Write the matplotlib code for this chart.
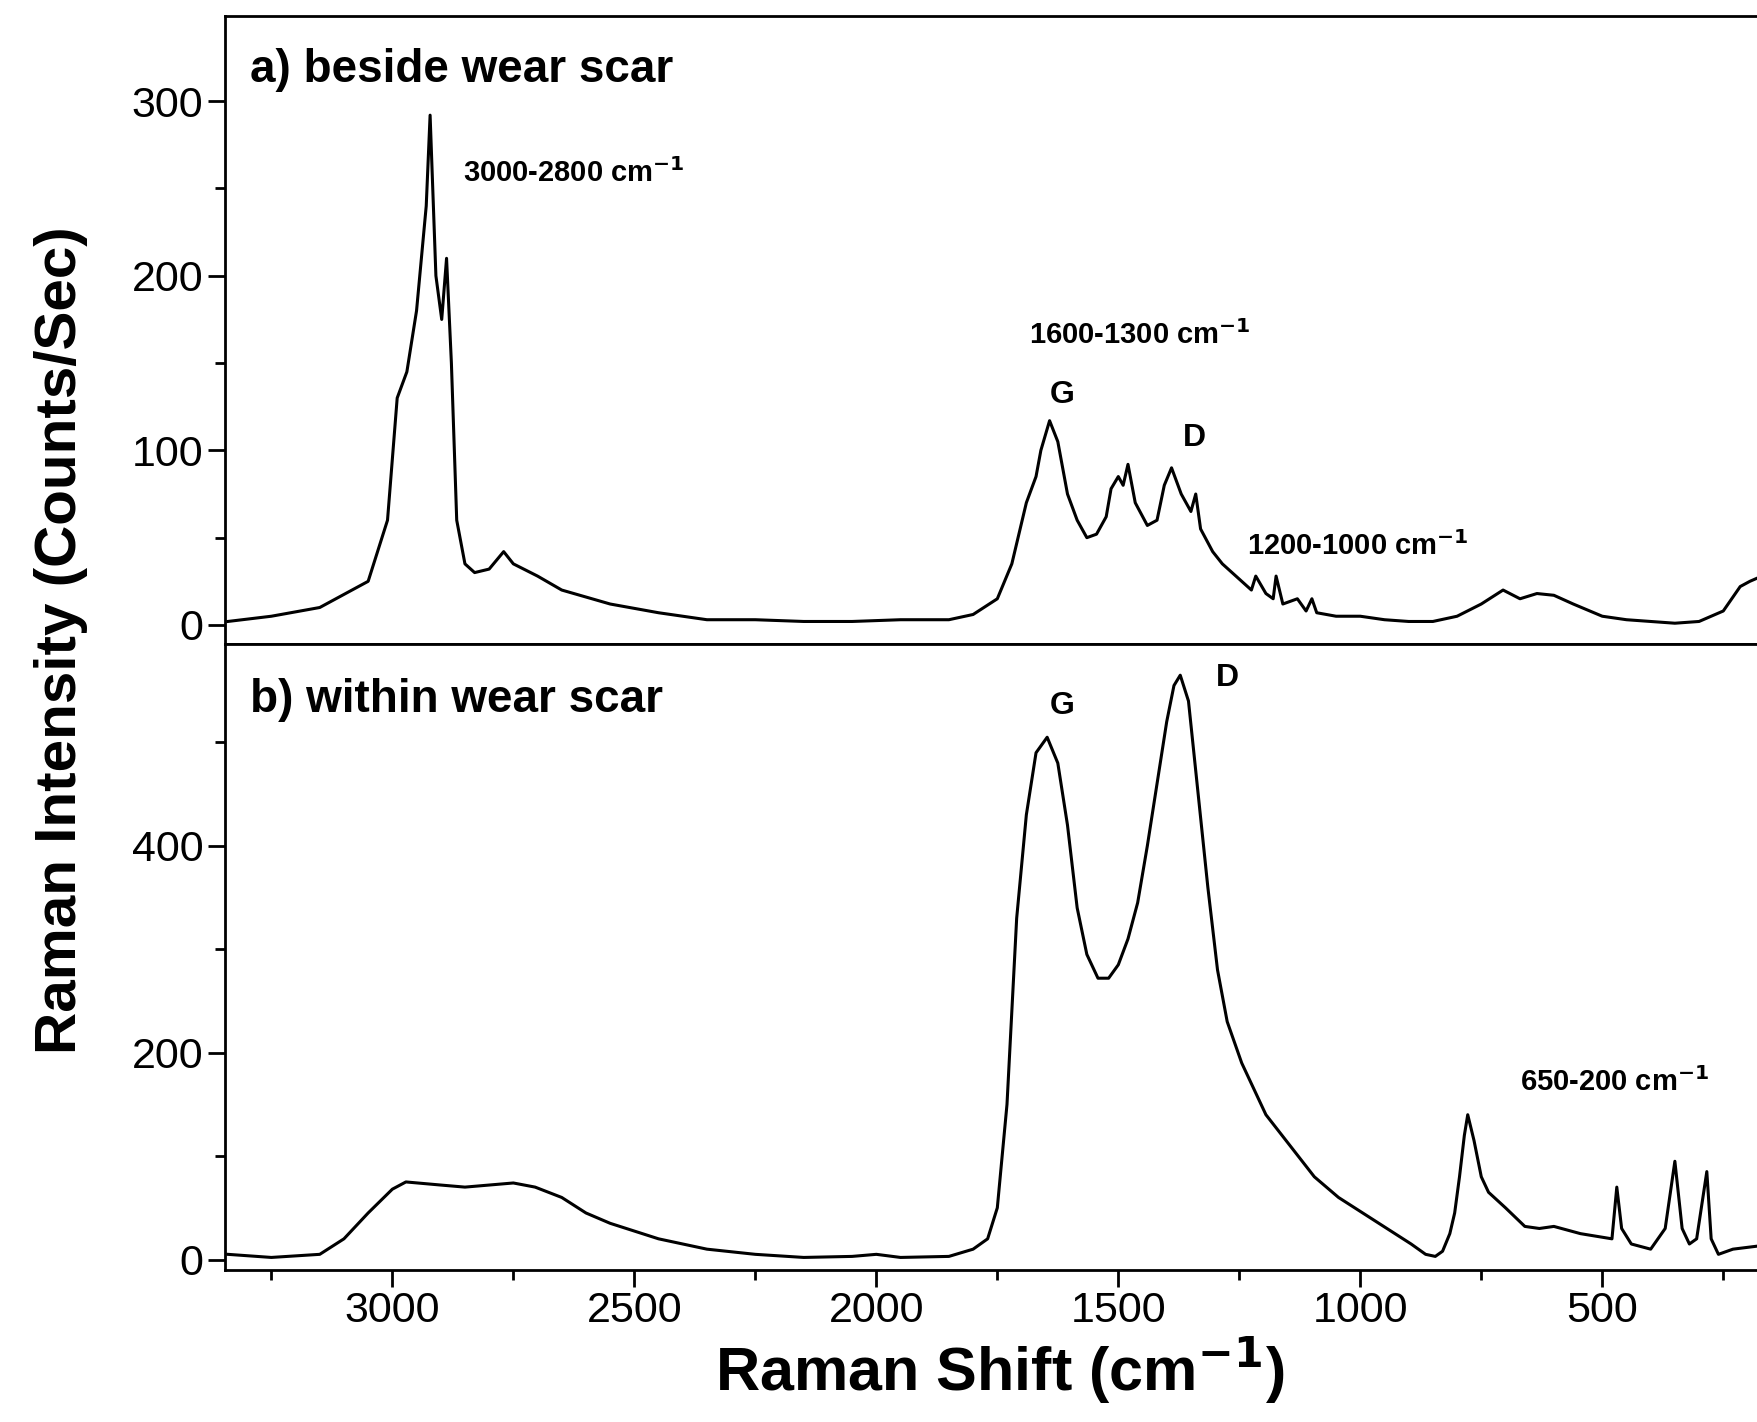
import matplotlib.pyplot as plt
from matplotlib.ticker import MultipleLocator

plt.rcParams['font.family'] = ['Liberation Sans', 'DejaVu Sans']

# a) beside wear scar
shift_a = [3340, 3250, 3150, 3050, 3010, 2990, 2970, 2950, 2930, 2922, 2910, 2898, 2888, 2878,
           2867, 2850, 2830, 2800, 2770, 2750, 2700, 2650, 2550, 2450, 2350, 2250, 2150, 2050,
           1950, 1850, 1800, 1750, 1720, 1690, 1670, 1660, 1642, 1625, 1605, 1585, 1565, 1545,
           1525, 1515, 1500, 1490, 1480, 1465, 1440, 1420, 1405, 1390, 1370, 1350, 1340, 1330,
           1305, 1285, 1245, 1225, 1216, 1195, 1180, 1174, 1160, 1130, 1112, 1100, 1090, 1050,
           1000, 950, 900, 850, 800, 750, 705, 670, 635, 600, 560, 500, 450, 400, 350, 300, 250,
           215, 195, 170, 144]
int_a = [2, 5, 10, 25, 60, 130, 145, 180, 240, 292, 200, 175, 210, 150,
         60, 35, 30, 32, 42, 35, 28, 20, 12, 7, 3, 3, 2, 2,
         3, 3, 6, 15, 35, 70, 85, 100, 117, 105, 75, 60, 50, 52,
         62, 78, 85, 80, 92, 70, 57, 60, 80, 90, 75, 65, 75, 55,
         42, 35, 25, 20, 28, 18, 15, 28, 12, 15, 8, 15, 7, 5,
         5, 3, 2, 2, 5, 12, 20, 15, 18, 17, 12, 5, 3, 2, 1, 2, 8,
         22, 25, 28, 30]

# b) within wear scar
shift_b = [3340, 3250, 3150, 3100, 3050, 3000, 2972, 2900, 2850, 2800, 2750, 2705, 2650, 2600,
           2550, 2450, 2350, 2250, 2150, 2050, 2000, 1950, 1850, 1800, 1770, 1750, 1730, 1710,
           1690, 1670, 1647, 1625, 1605, 1585, 1565, 1542, 1520, 1500, 1480, 1460, 1440, 1420,
           1400, 1385, 1372, 1355, 1335, 1315, 1295, 1275, 1245, 1195, 1145, 1095, 1045, 995,
           945, 895, 865, 845, 830, 815, 805, 795, 785, 778, 765, 750, 735, 700, 660, 630, 600,
           545, 480, 470, 460, 440, 400, 370, 350, 335, 320, 305, 284, 275, 260, 230, 144]
int_b = [5, 2, 5, 20, 45, 68, 75, 72, 70, 72, 74, 70, 60, 45,
         35, 20, 10, 5, 2, 3, 5, 2, 3, 10, 20, 50, 150, 330,
         430, 490, 505, 480, 420, 340, 295, 272, 272, 285, 310, 345, 400, 460,
         520, 555, 565, 540, 450, 360, 280, 230, 190, 140, 110, 80, 60, 45,
         30, 15, 5, 3, 8, 25, 45, 80, 120, 140, 115, 80, 65, 50, 32, 30, 32,
         25, 20, 70, 30, 15, 10, 30, 95, 30, 15, 20, 85, 20, 5, 10, 15]

fig = plt.figure(figsize=(17.57, 14.22), dpi=100)
ax1 = fig.add_axes([0.128, 0.547, 0.882, 0.442])
ax2 = fig.add_axes([0.128, 0.107, 0.882, 0.440], sharex=ax1)

ax1.plot(shift_a, int_a, color='black', lw=2.2)
ax2.plot(shift_b, int_b, color='black', lw=2.2)

ax1.set_xlim(3346, 144)
ax1.set_ylim(-11, 349)
ax2.set_ylim(-10, 595)

for ax in (ax1, ax2):
    ax.spines['right'].set_visible(False)
    for s in ax.spines.values():
        s.set_linewidth(2)
    ax.tick_params(axis='y', which='major', direction='out', length=12, width=2, labelsize=31)
    ax.tick_params(axis='y', which='minor', direction='out', length=7, width=2)
    ax.tick_params(axis='x', which='major', direction='out', length=12, width=2, labelsize=31)
    ax.tick_params(axis='x', which='minor', direction='out', length=7, width=2)

ax1.yaxis.set_major_locator(MultipleLocator(100))
ax1.yaxis.set_minor_locator(MultipleLocator(50))
ax2.yaxis.set_major_locator(MultipleLocator(200))
ax2.yaxis.set_minor_locator(MultipleLocator(100))
ax2.xaxis.set_major_locator(MultipleLocator(500))
ax2.xaxis.set_minor_locator(MultipleLocator(250))
ax1.tick_params(axis='x', which='both', bottom=False, labelbottom=False)

bold = dict(fontweight='bold', ha='left', va='center')
ax1.text(3294, 318, 'a) beside wear scar', fontsize=33, **bold)
ax2.text(3294, 541, 'b) within wear scar', fontsize=33, **bold)
ax1.text(2854, 259, '3000-2800 cm$^{\\mathbf{-1}}$', fontsize=21, **bold)
ax1.text(1684, 166, '1600-1300 cm$^{\\mathbf{-1}}$', fontsize=21, **bold)
ax1.text(1642, 132, 'G', fontsize=23, **bold)
ax1.text(1366, 107, 'D', fontsize=23, **bold)
ax1.text(1235, 45, '1200-1000 cm$^{\\mathbf{-1}}$', fontsize=21, **bold)
ax2.text(1642, 535, 'G', fontsize=23, **bold)
ax2.text(1298, 562, 'D', fontsize=23, **bold)
ax2.text(671, 172, '650-200 cm$^{\\mathbf{-1}}$', fontsize=21, **bold)

ax2.set_xlabel('Raman Shift (cm$^{\\mathbf{-1}}$)', fontsize=44, fontweight='bold', labelpad=2)
fig.text(0.035, 0.55, 'Raman Intensity (Counts/Sec)', rotation=90, fontsize=42,
         fontweight='bold', ha='center', va='center')

fig.savefig('out.png', dpi=100)
